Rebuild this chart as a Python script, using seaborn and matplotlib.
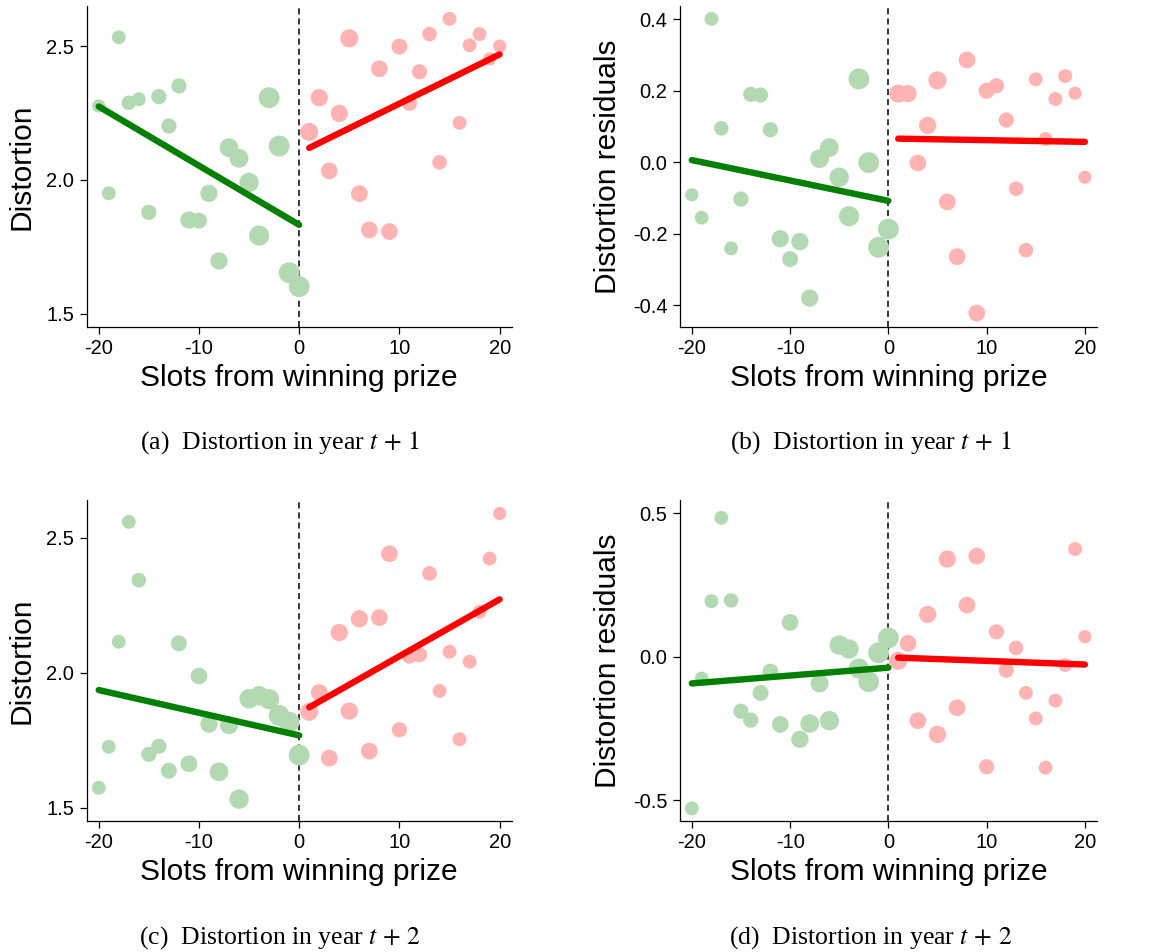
import numpy as np
import pandas as pd
import matplotlib
matplotlib.use("Agg")
import matplotlib.pyplot as plt
import seaborn as sns

# Slots relative to the winning prize
slots_left = list(range(-20, 1))
slots_right = list(range(1, 21))

# Panel (a): distortion in year t+1
dist_t1_left = [2.277, 1.950, 2.534, 2.289, 2.302, 1.879, 2.312, 2.202, 2.352, 1.850, 1.848,
                1.950, 1.697, 2.121, 2.081, 1.991, 1.792, 2.308, 2.127, 1.653, 1.601]
dist_t1_right = [2.180, 2.308, 2.034, 2.249, 2.530, 1.949, 1.813, 2.416, 1.807, 2.499,
                 2.287, 2.405, 2.546, 2.066, 2.603, 2.214, 2.504, 2.546, 2.453, 2.501]
fit_t1_left = [2.275, 1.832]
fit_t1_right = [2.120, 2.470]

# Panel (b): distortion residuals in year t+1
res_t1_left = [-0.091, -0.155, 0.401, 0.095, -0.241, -0.103, 0.190, 0.188, 0.091, -0.214, -0.271,
               -0.222, -0.380, 0.010, 0.041, -0.042, -0.151, 0.233, -0.001, -0.238, -0.187]
res_t1_right = [0.192, 0.192, -0.002, 0.103, 0.229, -0.111, -0.264, 0.286, -0.422, 0.200,
                0.214, 0.118, -0.074, -0.246, 0.232, 0.065, 0.177, 0.241, 0.193, -0.042]
fit_res_t1_left = [0.006, -0.108]
fit_res_t1_right = [0.066, 0.057]

# Panel (c): distortion in year t+2
dist_t2_left = [1.574, 1.726, 2.115, 2.559, 2.343, 1.698, 1.728, 1.637, 2.109, 1.663, 1.988,
                1.810, 1.633, 1.806, 1.532, 1.904, 1.915, 1.902, 1.842, 1.817, 1.695]
dist_t2_right = [1.856, 1.927, 1.684, 2.149, 1.858, 2.200, 1.710, 2.204, 2.441, 1.789,
                 2.062, 2.067, 2.368, 1.933, 2.078, 1.754, 2.041, 2.226, 2.423, 2.590]
fit_t2_left = [1.936, 1.768]
fit_t2_right = [1.872, 2.272]

# Panel (d): distortion residuals in year t+2
res_t2_left = [-0.529, -0.076, 0.194, 0.485, 0.197, -0.190, -0.221, -0.126, -0.052, -0.236, 0.120,
               -0.288, -0.233, -0.093, -0.223, 0.041, 0.027, -0.041, -0.087, 0.014, 0.066]
res_t2_right = [-0.014, 0.047, -0.223, 0.148, -0.271, 0.341, -0.178, 0.180, 0.351, -0.384,
                0.087, -0.047, 0.031, -0.126, -0.215, -0.387, -0.153, -0.029, 0.376, 0.070]
fit_res_t2_left = [-0.093, -0.038]
fit_res_t2_right = [-0.003, -0.027]

# Bin weights (marker area)
weight_t1_left = [36, 40, 40, 44, 40, 48, 48, 48, 48, 62, 53, 62, 62, 73, 73, 78, 84, 90, 90, 90, 90]
weight_t1_right = [68, 62, 58, 62, 68, 58, 58, 58, 58, 53, 48, 48, 44, 44, 40, 40, 40, 40, 36, 36]
weight_t2_left = [40, 40, 40, 40, 44, 48, 48, 53, 53, 58, 58, 62, 73, 68, 78, 78, 78, 84, 90, 90, 90]
weight_t2_right = [68, 58, 58, 62, 62, 62, 58, 58, 58, 48, 48, 48, 44, 40, 40, 40, 40, 40, 40, 36]

x_ticks = [-20, -10, 0, 10, 20]

sns.set_theme(style="ticks")
plt.rcParams["font.family"] = ["Liberation Sans", "DejaVu Sans"]
plt.rcParams["axes.unicode_minus"] = False
plt.rcParams["mathtext.fontset"] = "stix"
for key in ["text.color", "axes.labelcolor", "xtick.color", "ytick.color", "axes.edgecolor"]:
    plt.rcParams[key] = "black"

fig = plt.figure(figsize=(11.53, 9.52), dpi=100)
W, H = 1153, 952


def make_axes(left, top, right, bottom):
    return fig.add_axes([left / W, 1 - bottom / H, (right - left) / W, (bottom - top) / H])


panels = [
    dict(box=(86.7, 6, 511.7, 326.7), yl=dist_t1_left, yr=dist_t1_right,
         fl=fit_t1_left, fr=fit_t1_right, wl=weight_t1_left, wr=weight_t1_right,
         ylim=(1.451, 2.651), yticks=[1.5, 2.0, 2.5], ylabel="Distortion",
         caption=r"(a)  Distortion in year $t\,+\,1$", cx=280, cy=443),
    dict(box=(680, 6, 1096.7, 326.7), yl=res_t1_left, yr=res_t1_right,
         fl=fit_res_t1_left, fr=fit_res_t1_right, wl=weight_t1_left, wr=weight_t1_right,
         ylim=(-0.460, 0.437), yticks=[-0.4, -0.2, 0.0, 0.2, 0.4], ylabel="Distortion residuals",
         caption=r"(b)  Distortion in year $t\,+\,1$", cx=871, cy=443),
    dict(box=(86.7, 500, 511.7, 821), yl=dist_t2_left, yr=dist_t2_right,
         fl=fit_t2_left, fr=fit_t2_right, wl=weight_t2_left, wr=weight_t2_right,
         ylim=(1.451, 2.640), yticks=[1.5, 2.0, 2.5], ylabel="Distortion",
         caption=r"(c)  Distortion in year $t\,+\,2$", cx=280, cy=938),
    dict(box=(680, 500, 1096.7, 821), yl=res_t2_left, yr=res_t2_right,
         fl=fit_res_t2_left, fr=fit_res_t2_right, wl=weight_t2_left, wr=weight_t2_right,
         ylim=(-0.573, 0.547), yticks=[-0.5, 0.0, 0.5], ylabel="Distortion residuals",
         caption=r"(d)  Distortion in year $t\,+\,2$", cx=871, cy=938),
]

green_pt, red_pt = "#b3d9b3", "#ffb3b3"

for p in panels:
    ax = make_axes(*p["box"])
    ax.axvline(0, color="black", lw=1.1, ls=(0, (4, 2.6)), zorder=1)

    left = pd.DataFrame({"slot": slots_left, "y": p["yl"], "w": p["wl"]})
    right = pd.DataFrame({"slot": slots_right, "y": p["yr"], "w": p["wr"]})
    for df, col in [(left, green_pt), (right, red_pt)]:
        sns.scatterplot(data=df, x="slot", y="y", size="w", sizes=(0, 250), size_norm=(0, 100),
                        color=col, edgecolor="none", linewidth=0, alpha=1, legend=False,
                        ax=ax, zorder=2)

    fit_l = pd.DataFrame({"slot": [slots_left[0], slots_left[-1]], "y": p["fl"]})
    fit_r = pd.DataFrame({"slot": [slots_right[0], slots_right[-1]], "y": p["fr"]})
    sns.lineplot(data=fit_l, x="slot", y="y", color="green", lw=4.6, ax=ax,
                 solid_capstyle="round", zorder=3)
    sns.lineplot(data=fit_r, x="slot", y="y", color="red", lw=4.6, ax=ax,
                 solid_capstyle="round", zorder=3)

    ax.set_xlim(-21.2, 21.2)
    ax.set_ylim(*p["ylim"])
    ax.set_xticks(x_ticks)
    ax.set_xticklabels([str(t) for t in x_ticks])
    ax.set_yticks(p["yticks"])
    ax.set_yticklabels([f"{t:.1f}" for t in p["yticks"]])
    ax.tick_params(axis="both", labelsize=14.5, length=5, width=0.9, color="black", pad=4)
    ax.set_xlabel("Slots from winning prize", fontsize=21.5, labelpad=4)
    ax.set_ylabel(p["ylabel"], fontsize=21.5, labelpad=8)
    for s in ["top", "right"]:
        ax.spines[s].set_visible(False)
    for s in ["left", "bottom"]:
        ax.spines[s].set_color("black")
        ax.spines[s].set_linewidth(0.9)

    fig.text(p["cx"] / W, 1 - p["cy"] / H, p["caption"], ha="center", va="center",
             fontsize=18.5, family="Liberation Serif")

fig.savefig("out.png", dpi=100)
